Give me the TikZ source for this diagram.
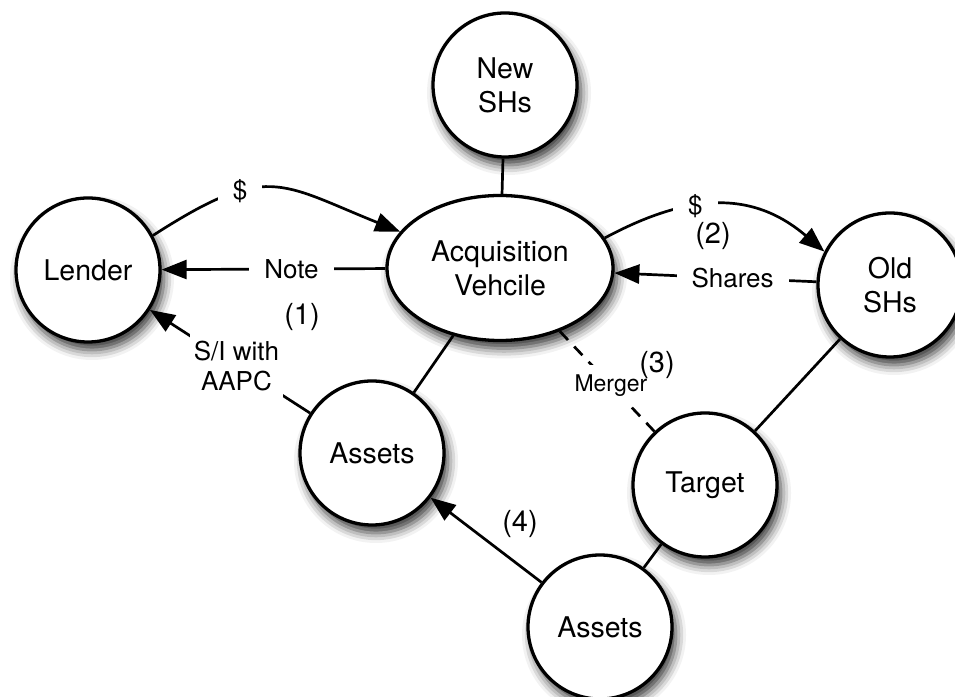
\documentclass[tikz,border=0pt]{standalone}
\usepackage{fontspec}
\setmainfont{TeX Gyre Heros}
\usetikzlibrary{arrows.meta,shapes.geometric,shadows.blur}

\begin{document}
\begin{tikzpicture}[
  party/.style={draw, line width=3.3pt, fill=white, inner sep=0pt, align=center,
    font=\fontsize{28.5}{34}\selectfont,
    blur shadow={shadow xshift=4pt, shadow yshift=-8pt, shadow blur radius=10pt, shadow opacity=80}},
  roundparty/.style={party, circle, minimum size=144pt},
  ovalparty/.style={party, ellipse, minimum width=226pt, minimum height=145pt},
  conn/.style={line width=2.7pt},
  arr/.style={-{Triangle[length=25pt,width=19pt]}},
  lbl/.style={fill=white, inner xsep=15pt, inner ysep=4pt, align=center,
    font=\fontsize{26}{30}\selectfont},
  numlbl/.style={inner sep=0pt, font=\fontsize{29}{34}\selectfont},
]
\clip (0,0) rectangle (955pt,696pt);
\path[use as bounding box] (0,0) rectangle (955pt,696pt);

\begin{scope}[x=1pt,y=1pt]
% parties
\node[roundparty] (lender)  at (88,426)  {Lender};
\node[roundparty] (newsh)   at (505,611) {New\\SHs};
\node[ovalparty]  (acq)     at (500,428) {Acquisition\\Vehcile};
\node[roundparty] (oldsh)   at (890,411) {Old\\SHs};
\node[roundparty] (assetsL) at (372,243) {Assets};
\node[roundparty] (target)  at (705,211) {Target};
\node[roundparty] (assetsB) at (600,69)  {Assets};

% plain links
\draw[conn] (newsh) -- (acq);
\draw[conn] (acq) -- (assetsL);
\draw[conn] (oldsh) -- (target);
\draw[conn] (target) -- (assetsB);

% step (1): financing
\draw[conn,arr] (lender.28) .. controls (267,534) and (279,513) .. (acq.160)
  node[lbl,pos=0.33] {\$};
\draw[conn,arr] (acq) -- node[lbl,pos=0.42] {Note} (lender);
\draw[conn,arr] (assetsL) -- node[lbl,pos=0.46,inner ysep=9pt,inner xsep=4pt] {S/I with\\AAPC} (lender);
\node[numlbl] (n1) at (302,379) {(1)};

% step (2): buying the old shareholders out
\draw[conn,arr] (acq.16) .. controls (685,501) and (750,508) .. (oldsh.153)
  node[lbl,pos=0.4] {\$};
\draw[conn,arr] (oldsh) -- node[lbl,pos=0.415] {Shares} (acq);
\node[numlbl] (n2) at (713,460) {(2)};

% step (3): merger
\draw[conn,dashed,dash pattern=on 12pt off 9pt] (acq) --
  node[lbl,pos=0.54,inner xsep=2pt,inner ysep=9pt,font=\fontsize{23}{27}\selectfont] {Merger} (target);
\node[numlbl] (n3) at (657,331) {(3)};

% step (4): asset transfer
\draw[conn,arr] (assetsB) -- (assetsL);
\node[numlbl] (n4) at (520,172) {(4)};
\end{scope}
\end{tikzpicture}
\end{document}
